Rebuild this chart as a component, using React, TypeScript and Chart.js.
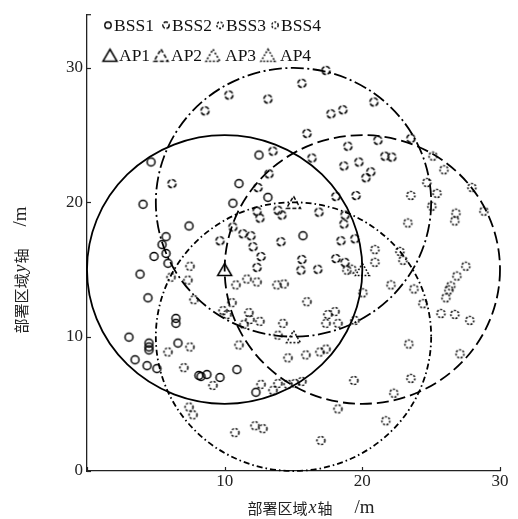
import React, { useEffect, useRef } from "react";
import { Chart, registerables } from "chart.js";

Chart.register(...registerables);

// ---------- data ----------
const bssNames = ["BSS1", "BSS2", "BSS3", "BSS4"];
const apNames = ["AP1", "AP2", "AP3", "AP4"];
const apX = [10, 15, 15, 20];
const apY = [15, 20, 10, 15];
const coverRadius = [10, 10, 10, 10];
const xTicks = [0, 10, 20, 30];
const yTicks = [0, 10, 20, 30];
const xRange = [0, 30];
const yRange = [0, 34];

const bss1: number[][] = [
  [4.65, 23.0], [4.07, 19.85], [11.04, 21.39], [10.6, 19.93], [12.49, 23.52],
  [7.41, 18.24], [5.74, 17.44], [5.45, 16.85], [5.74, 16.19], [4.87, 15.97],
  [5.88, 15.46], [3.85, 14.65], [4.43, 12.89], [3.05, 9.96], [4.5, 9.52],
  [4.5, 9.23], [4.5, 9.01], [3.49, 8.28], [4.36, 7.84], [5.08, 7.62],
  [6.46, 11.36], [6.46, 10.99], [6.61, 9.52], [8.13, 7.11], [8.28, 7.03],
  [8.71, 7.18], [9.66, 6.96], [10.89, 7.55], [12.27, 5.86], [13.14, 20.37],
  [15.69, 17.51],
];

const bss2: number[][] = [
  [6.17, 21.39], [8.57, 26.81], [10.31, 27.99], [9.66, 17.14], [10.6, 18.17],
  [11.33, 17.66], [11.91, 17.51], [12.06, 16.7], [12.35, 19.34], [12.56, 18.83],
  [13.14, 27.69], [15.61, 28.86], [17.36, 29.82], [17.72, 26.59], [18.59, 26.89],
  [20.84, 27.47], [23.53, 24.76], [15.98, 25.13], [13.51, 23.81], [13.22, 22.12],
  [12.42, 21.1], [16.34, 23.3], [18.95, 24.18], [21.13, 24.62], [21.64, 23.44],
  [22.15, 23.37], [18.66, 22.71], [19.75, 23.0], [20.62, 22.27], [20.26, 21.83],
  [18.08, 20.44], [19.54, 20.51], [13.87, 19.41], [14.16, 19.05], [16.85, 19.27],
  [18.74, 19.05], [18.66, 18.39], [14.09, 17.07], [18.45, 17.14], [19.46, 17.29],
  [12.64, 15.97], [12.35, 15.16], [15.61, 15.75], [15.54, 14.95], [16.77, 15.02],
  [18.08, 15.82], [18.74, 15.53],
];

const bss3: number[][] = [
  [7.48, 15.24], [6.1, 14.43], [7.33, 14.21], [7.77, 12.75], [10.82, 13.85],
  [11.62, 14.29], [12.35, 14.07], [13.8, 13.85], [14.31, 13.92], [10.53, 12.53],
  [9.88, 11.94], [10.17, 11.65], [11.76, 11.79], [11.84, 11.28], [11.4, 10.92],
  [12.56, 11.14], [14.23, 10.99], [15.98, 12.6], [17.5, 11.65], [18.01, 11.87],
  [17.36, 10.99], [18.23, 10.99], [19.46, 11.21], [13.87, 10.11], [11.04, 9.38],
  [5.88, 8.86], [7.48, 9.23], [7.04, 7.69], [9.15, 6.37], [7.41, 4.76],
  [7.7, 4.18], [10.75, 2.86], [12.2, 3.37], [12.78, 3.15], [12.64, 6.45],
  [13.51, 6.01], [13.87, 6.52], [14.6, 6.45], [15.11, 6.52], [15.61, 6.67],
  [14.6, 8.42], [15.9, 8.64], [16.92, 8.86], [17.36, 9.08], [19.39, 6.74],
  [18.23, 4.62], [16.99, 2.27],
];

const bss4: number[][] = [
  [18.88, 14.95], [19.24, 15.02], [20.92, 16.48], [20.92, 15.53], [22.73, 16.34],
  [22.95, 15.68], [23.31, 18.46], [23.53, 20.51], [25.13, 23.44], [25.93, 22.42],
  [27.96, 21.1], [28.83, 19.34], [24.69, 21.47], [25.42, 20.66], [25.05, 19.71],
  [26.8, 19.19], [26.72, 18.61], [27.52, 15.24], [26.87, 14.51], [26.07, 12.89],
  [26.29, 13.48], [26.43, 13.77], [25.71, 11.72], [26.72, 11.65], [27.81, 11.21],
  [27.09, 8.72], [23.75, 13.55], [24.4, 12.45], [22.08, 13.85], [23.38, 9.45],
  [23.53, 6.89], [22.29, 5.79], [21.71, 3.74], [20.04, 13.26],
];

const bssPoints = [bss1, bss2, bss3, bss4];

// ---------- styles ----------
const INK = "#000";
const circleDash = [[], [13, 3.5, 2, 3.5], [6, 3, 1.6, 3], [12, 5]];
const markerDash = [[], [4.5, 1.6], [2.2, 1.6], [2.0, 1.5]];
const triDash = [[], [4, 2], [2, 1.8], [1.8, 1.6]];
const SERIF = '"Liberation Serif", "DejaVu Serif", serif';
const CJK = '"Noto Sans CJK SC", sans-serif';

function makeCircleImg(dash: number[], r: number, lw: number) {
  const s = Math.ceil(r * 2 + lw * 2 + 2);
  const c = document.createElement("canvas");
  c.width = s;
  c.height = s;
  const ctx = c.getContext("2d")!;
  ctx.strokeStyle = INK;
  ctx.lineWidth = lw;
  ctx.setLineDash(dash);
  ctx.beginPath();
  ctx.arc(s / 2, s / 2, r, 0, Math.PI * 2);
  ctx.stroke();
  return c;
}

function makeTriImg(dash: number[], w: number, h: number, lw: number) {
  const cw = Math.ceil(w + lw * 2 + 2);
  const ch = Math.ceil(h + lw * 2 + 2);
  const c = document.createElement("canvas");
  c.width = cw;
  c.height = ch;
  const ctx = c.getContext("2d")!;
  ctx.strokeStyle = INK;
  ctx.lineWidth = lw;
  ctx.setLineDash(dash);
  ctx.lineJoin = "miter";
  const x0 = (cw - w) / 2;
  const y0 = (ch - h) / 2;
  ctx.beginPath();
  ctx.moveTo(x0 + w / 2, y0);
  ctx.lineTo(x0 + w, y0 + h);
  ctx.lineTo(x0, y0 + h);
  ctx.closePath();
  ctx.stroke();
  return c;
}

type Part = { t: string; f: string; gap?: number };

function drawMixed(ctx: CanvasRenderingContext2D, parts: Part[], cx: number, cy: number) {
  let total = 0;
  const widths = parts.map((p) => {
    let w = p.gap || 0;
    if (p.t) {
      ctx.font = p.f;
      w += ctx.measureText(p.t).width;
    }
    total += w;
    return w;
  });
  let x = cx - total / 2;
  ctx.textBaseline = "middle";
  ctx.textAlign = "left";
  parts.forEach((p, i) => {
    if (p.t) {
      ctx.font = p.f;
      ctx.fillText(p.t, x + (p.gap || 0), cy);
    }
    x += widths[i];
  });
}

export default function App() {
  const ref = useRef<HTMLCanvasElement | null>(null);

  useEffect(() => {
    if (!ref.current) return;
    const ptImgs = markerDash.map((d) => makeCircleImg(d, 4.0, 1.5));
    const legImgs = markerDash.map((d) => makeCircleImg(d, 3.2, 1.4));
    const triImgs = triDash.map((d) => makeTriImg(d, 14, 12, 1.5));

    const datasets: any[] = [];
    bssPoints.forEach((pts, i) => {
      datasets.push({
        label: bssNames[i],
        data: pts.map((p) => ({ x: p[0], y: p[1] })),
        pointStyle: ptImgs[i],
        pointRadius: 4,
        showLine: false,
      });
    });
    apNames.forEach((n, i) => {
      datasets.push({
        label: n,
        data: [{ x: apX[i], y: apY[i] }],
        pointStyle: triImgs[i],
        pointRadius: 7,
        showLine: false,
      });
    });

    const decor = {
      id: "decor",
      beforeDatasetsDraw(chart: any) {
        const { ctx } = chart;
        const xs = chart.scales.x;
        const ys = chart.scales.y;
        apX.forEach((cx, i) => {
          const px = xs.getPixelForValue(cx);
          const py = ys.getPixelForValue(apY[i]);
          const rx = Math.abs(xs.getPixelForValue(cx + coverRadius[i]) - px);
          const ry = Math.abs(ys.getPixelForValue(apY[i] + coverRadius[i]) - py);
          ctx.save();
          ctx.strokeStyle = INK;
          ctx.lineWidth = 1.8;
          ctx.setLineDash(circleDash[i]);
          ctx.beginPath();
          ctx.ellipse(px, py, rx, ry, 0, 0, Math.PI * 2);
          ctx.stroke();
          ctx.restore();
        });
      },
      afterDraw(chart: any) {
        const { ctx, chartArea } = chart;
        const xs = chart.scales.x;
        const ys = chart.scales.y;
        ctx.save();
        ctx.strokeStyle = "#222";
        ctx.lineWidth = 1.2;
        // inward ticks
        xTicks.forEach((v) => {
          const p = Math.round(xs.getPixelForValue(v)) + 0.5;
          ctx.beginPath();
          ctx.moveTo(p, chartArea.bottom);
          ctx.lineTo(p, chartArea.bottom - 4);
          ctx.stroke();
        });
        yTicks.forEach((v) => {
          const p = Math.round(ys.getPixelForValue(v)) + 0.5;
          ctx.beginPath();
          ctx.moveTo(chartArea.left, p);
          ctx.lineTo(chartArea.left + 4, p);
          ctx.stroke();
        });
        ctx.beginPath();
        ctx.moveTo(chartArea.left, chartArea.top + 0.5);
        ctx.lineTo(chartArea.left + 4, chartArea.top + 0.5);
        ctx.stroke();

        // axis titles
        ctx.fillStyle = "#222";
        const xParts: Part[] = [
          { t: "部署区域", f: `15px ${CJK}` },
          { t: "x", f: `italic 18px ${SERIF}`, gap: 1 },
          { t: "轴", f: `15px ${CJK}`, gap: 1 },
          { t: "/m", f: `19px ${SERIF}`, gap: 22 },
        ];
        drawMixed(ctx, xParts, 311, 508);
        const yParts: Part[] = [
          { t: "部署区域", f: `15px ${CJK}` },
          { t: "y", f: `italic 18px ${SERIF}`, gap: 1 },
          { t: "轴", f: `15px ${CJK}`, gap: 1 },
          { t: "/m", f: `19px ${SERIF}`, gap: 22 },
        ];
        ctx.save();
        ctx.translate(21, 270);
        ctx.rotate(-Math.PI / 2);
        drawMixed(ctx, yParts, 0, 0);
        ctx.restore();

        // legend
        const L = chartArea.left;
        const T = chartArea.top;
        const row1 = T + 11;
        const row2 = T + 41;
        const bssX = [21, 79, 133, 188];
        const apXs = [23, 74, 126, 181];
        const apTx = [32, 84, 138, 193];
        ctx.textBaseline = "middle";
        ctx.textAlign = "left";
        ctx.font = `17.5px ${SERIF}`;
        ctx.fillStyle = "#111";
        bssNames.forEach((n, i) => {
          const img = legImgs[i];
          const mx = L + bssX[i];
          ctx.drawImage(img, mx - img.width / 2, row1 - img.height / 2);
          ctx.fillText(n, mx + 6, row1 + 1);
        });
        apNames.forEach((n, i) => {
          const img = triImgs[i];
          const mx = L + apXs[i];
          ctx.drawImage(img, mx - img.width / 2, row2 - img.height / 2);
          ctx.fillText(n, L + apTx[i], row2 + 1);
        });
        ctx.restore();
      },
    };

    const chart = new Chart(ref.current, {
      type: "scatter",
      data: { datasets },
      options: {
        responsive: false,
        animation: false,
        events: [],
        layout: { padding: { top: 7, right: 18, left: 0, bottom: 0 } },
        plugins: { legend: { display: false }, tooltip: { enabled: false } },
        scales: {
          x: {
            type: "linear",
            min: xRange[0],
            max: xRange[1],
            afterBuildTicks: (s: any) => {
              s.ticks = xTicks.map((v) => ({ value: v }));
            },
            afterFit: (s: any) => {
              s.height = 48;
            },
            ticks: {
              callback: (v: any) => (v === 0 ? "" : String(v)),
              font: { family: SERIF, size: 17 },
              color: "#222",
              padding: 0,
              maxRotation: 0,
              autoSkip: false,
            },
            grid: { display: false, drawTicks: false },
            border: { display: true, color: "#222", width: 1.3 },
          },
          y: {
            type: "linear",
            min: yRange[0],
            max: yRange[1],
            afterBuildTicks: (s: any) => {
              s.ticks = yTicks.map((v) => ({ value: v }));
            },
            afterFit: (s: any) => {
              s.width = 87;
            },
            ticks: {
              font: { family: SERIF, size: 17 },
              color: "#222",
              padding: 4,
              autoSkip: false,
            },
            grid: { display: false, drawTicks: false },
            border: { display: true, color: "#222", width: 1.3 },
          },
        },
      },
      plugins: [decor],
    } as any);
    return () => chart.destroy();
  }, []);

  return (
    <div style={{ position: "fixed", left: 0, top: 0, width: 518, height: 519, background: "#fff" }}>
      <canvas ref={ref} width={518} height={519} style={{ display: "block", width: 518, height: 519 }} />
    </div>
  );
}
